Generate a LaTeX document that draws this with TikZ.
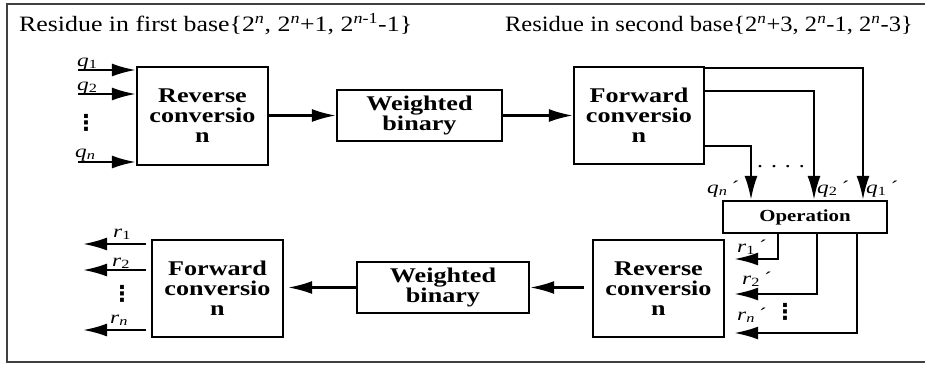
\documentclass[tikz,border=0pt]{standalone}
\usepackage{fontspec}
\setmainfont{Liberation Serif}
\newfontfamily\dejavu{DejaVu Sans}
\usepackage{graphicx}
\usetikzlibrary{arrows.meta,calc}
\newcommand{\sx}[2][1.3]{\scalebox{#1}[1]{#2}}
\newcommand{\lbl}[2]{\sx{\textit{#1}\textsubscript{#2}}}
\newcommand{\lblp}[2]{\sx{\textit{#1}\textsubscript{#2}\,´}}
\begin{document}
\begin{tikzpicture}[x=1bp,y=-1bp,
  box/.style={draw, line width=2.3bp, inner sep=0pt, align=center,
    font=\bfseries\fontsize{21}{20}\selectfont},
  arr/.style={line width=2.3bp, -{Latex[length=24bp,width=13bp]}},
  lab/.style={anchor=base west, inner sep=0pt, font=\fontsize{18}{18}\selectfont},
  ttl/.style={inner sep=0pt, font=\fontsize{22}{22}\selectfont},
  vdot/.style={inner sep=0pt, font=\dejavu\bfseries\fontsize{22}{22}\selectfont},
  frame/.style={line width=1.5bp, draw=black!75}]
\useasboundingbox (0,0) rectangle (925,366);
\draw[frame] (925,4) -- (7,4) -- (7,362) -- (925,362);

\node[ttl, anchor=base west] (t1) at (19,31) {\sx[1.18]{Residue in first base\{2\textsuperscript{\textit{n}}, 2\textsuperscript{\textit{n}}+1, 2\textsuperscript{\textit{n}-1}-1\}}};
\node[ttl, anchor=base east] (t2) at (913,31) {\sx[1.12]{Residue in second base\{2\textsuperscript{\textit{n}}+3, 2\textsuperscript{\textit{n}}-1, 2\textsuperscript{\textit{n}}-3\}}};

% top row
\node[box, minimum width=131bp, minimum height=98bp] (RC1) at (202.5,116) {\sx[1.25]{Reverse}\\\sx[1.25]{conversio}\\\sx[1.25]{n}};
\node[box, minimum width=165bp, minimum height=51bp] (WB1) at (419.5,115.5) {\sx[1.25]{Weighted}\\\sx[1.25]{binary}};
\node[box, minimum width=130bp, minimum height=97bp] (FC1) at (639,115.5) {\sx[1.25]{Forward}\\\sx[1.25]{conversio}\\\sx[1.25]{n}};
\node[box, minimum width=164bp, minimum height=32bp, font=\bfseries\fontsize{17}{17}\selectfont] (OP) at (805,217) {\sx[1.23]{Operation}};

% bottom row
\node[box, minimum width=131bp, minimum height=97bp] (RC2) at (658.5,288.5) {\sx[1.25]{Reverse}\\\sx[1.25]{conversio}\\\sx[1.25]{n}};
\node[box, minimum width=172bp, minimum height=51bp] (WB2) at (443,287.5) {\sx[1.25]{Weighted}\\\sx[1.25]{binary}};
\node[box, minimum width=131bp, minimum height=97bp] (FC2) at (217.5,288.5) {\sx[1.25]{Forward}\\\sx[1.25]{conversio}\\\sx[1.25]{n}};

% inputs q
\coordinate (qs1) at (78,70);
\coordinate (qs2) at (78,94);
\coordinate (qsn) at (78,162);
\draw[arr] (qs1) -- (qs1 -| RC1.west);
\draw[arr] (qs2) -- (qs2 -| RC1.west);
\draw[arr] (qsn) -- (qsn -| RC1.west);
\node[lab] (lq1) at (77,66) {\lbl{q}{1}};
\node[lab] (lq2) at (77,90) {\lbl{q}{2}};
\node[lab] (lqn) at (75,157) {\lbl{q}{\textit{n}}};
\node[vdot] (vd1) at (86,123) {⋮};

% top flow
\draw[arr] (RC1.east |- WB1.west) -- (WB1.west);
\draw[arr] (WB1.east) -- (WB1.east -| FC1.west);

% forward outputs to operation
\draw[arr] ($(FC1.north east)+(0,2)$) -| ($(OP.north)+(58,0)$);
\draw[arr] ($(FC1.north east)+(0,25)$) -| ($(OP.north)+(9,0)$);
\draw[arr] ($(FC1.north east)+(0,80)$) -| ($(OP.north)+(-54,0)$);
\node[inner sep=0pt, font=\fontsize{20}{20}\selectfont] (hd) at (781,167) {\sx[1.2]{. . . .}};
\node[lab] (lqnp) at (707,193) {\lblp{q}{\textit{n}}};
\node[lab] (lq2p) at (817,193) {\lblp{q}{2}};
\node[lab] (lq1p) at (866,193) {\lblp{q}{1}};

% operation outputs to reverse conversion
\draw[arr, shorten >=9bp] ($(OP.south)+(-27,0)$) |- ($(RC2.east)+(0,-29.5)$);
\draw[arr, shorten >=9bp] ($(OP.south)+(12,0)$) |- ($(RC2.east)+(0,5.5)$);
\draw[arr, shorten >=9bp] ($(OP.south)+(52,0)$) |- ($(RC2.east)+(0,44.5)$);
\node[lab] (lr1p) at (737,252) {\lblp{r}{1}};
\node[lab] (lr2p) at (742,284) {\lblp{r}{2}};
\node[lab] (lrnp) at (737,320) {\lblp{r}{\textit{n}}};
\node[vdot] (vd3) at (785,312) {⋮};

% bottom flow
\draw[arr, shorten <=8bp] (RC2.west |- WB2.east) -- (WB2.east);
\draw[arr, shorten >=4bp] (WB2.west) -- (WB2.west -| FC2.east);

% outputs r
\coordinate (re1) at (83,244);
\coordinate (re2) at (83,270);
\coordinate (ren) at (83,330);
\draw[arr, shorten <=5bp] (re1 -| FC2.west) -- (re1);
\draw[arr, shorten <=5bp] (re2 -| FC2.west) -- (re2);
\draw[arr, shorten <=5bp] (ren -| FC2.west) -- (ren);
\node[lab] (lr1) at (113,237) {\lbl{r}{1}};
\node[lab] (lr2) at (112,266) {\lbl{r}{2}};
\node[lab] (lrn) at (110,323) {\lbl{r}{\textit{n}}};
\node[vdot] (vd2) at (122,294) {⋮};
\end{tikzpicture}
\end{document}
